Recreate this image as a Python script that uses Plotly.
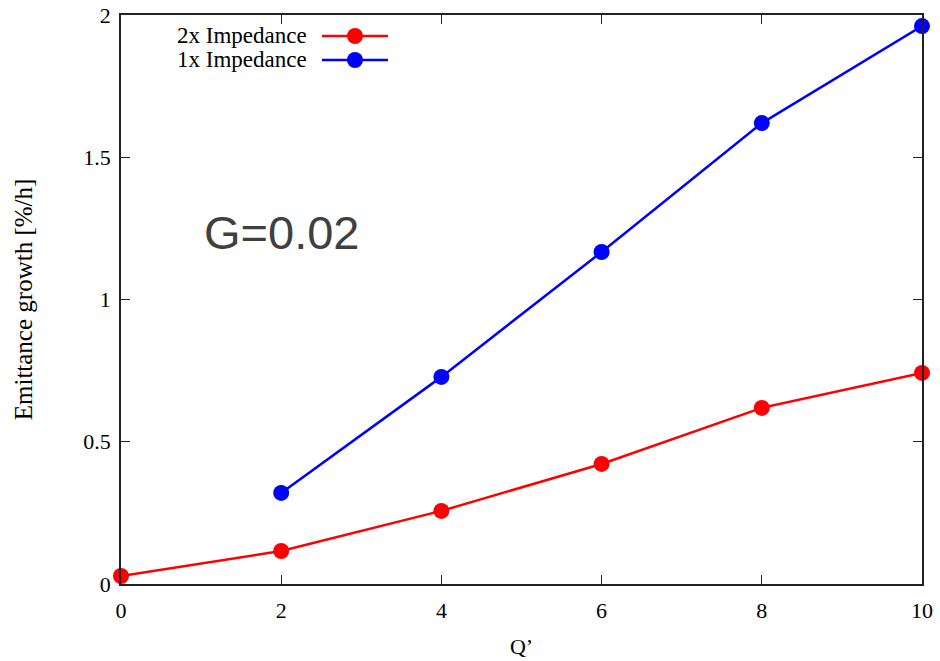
import plotly.graph_objects as go

q_red = [0, 2, 4, 6, 8, 10]
growth_red = [0.028, 0.116, 0.257, 0.422, 0.619, 0.742]
q_blue = [2, 4, 6, 8, 10]
growth_blue = [0.32, 0.728, 1.167, 1.62, 1.961]
name_red = "2x Impedance"
name_blue = "1x Impedance"
x_ticks = [0, 2, 4, 6, 8, 10]
y_ticks = [0, 0.5, 1, 1.5, 2]
y_ticklabels = ["0", "0.5", "1", "1.5", "2"]

serif = "Liberation Serif, Times New Roman, serif"

fig = go.Figure()
fig.add_trace(go.Scatter(x=q_red, y=growth_red, mode="lines+markers", name=name_red,
                         line=dict(color="#ff0000", width=2.5),
                         marker=dict(color="#ff0000", size=16), cliponaxis=False, showlegend=False))
fig.add_trace(go.Scatter(x=q_blue, y=growth_blue, mode="lines+markers", name=name_blue,
                         line=dict(color="#0000ff", width=2.5),
                         marker=dict(color="#0000ff", size=16), cliponaxis=False, showlegend=False))

axis_common = dict(showgrid=False, zeroline=False, showline=True, linecolor="#222222", linewidth=1.5,
                   mirror="ticks", ticks="inside", ticklen=9, tickwidth=1, tickcolor="#222222",
                   automargin=False,
                   tickfont=dict(family=serif, size=22, color="#000000"))
fig.update_xaxes(range=[0, 10], tickvals=x_ticks, ticktext=[str(v) for v in x_ticks],
                 ticklabelstandoff=6,
                 title=dict(text="Q’", font=dict(family=serif, size=22, color="#000"), standoff=16),
                 **axis_common)
fig.update_yaxes(range=[0, 2], tickvals=y_ticks, ticktext=y_ticklabels,
                 ticklabelstandoff=4,
                 title=dict(text="Emittance growth [%/h]", font=dict(family=serif, size=25, color="#000"), standoff=44),
                 **axis_common)

# Manual legend (text right-aligned, sample on the right, like gnuplot)
L, R, T, B = 121, 18, 15, 77
plot_w = 940 - L - R
plot_h = 661 - T - B
def px_to_paper_x(px):
    return (px - L) / plot_w
def px_to_paper_y(py):
    return (661 - B - py) / plot_h

legend_items = [(name_red, "#ff0000", 36), (name_blue, "#0000ff", 60)]
for name, col, py in legend_items:
    fig.add_annotation(x=px_to_paper_x(309), y=px_to_paper_y(py), xref="paper", yref="paper",
                       text=name, showarrow=False, xanchor="right", yanchor="middle",
                       font=dict(family=serif, size=23, color="#000"))
    fig.add_shape(type="line", xref="paper", yref="paper",
                  x0=px_to_paper_x(322), x1=px_to_paper_x(388), y0=px_to_paper_y(py), y1=px_to_paper_y(py),
                  line=dict(color=col, width=2.5))
    fig.add_shape(type="circle", xref="paper", yref="paper",
                  x0=px_to_paper_x(347), x1=px_to_paper_x(363), y0=px_to_paper_y(py - 8), y1=px_to_paper_y(py + 8),
                  fillcolor=col, line=dict(color=col, width=0))

fig.add_annotation(x=2.0, y=1.234, xref="x", yref="y", text="G=0.02", showarrow=False,
                   font=dict(family="Liberation Sans, Arial, sans-serif", size=47, color="#404040"))

fig.update_layout(width=940, height=661, margin=dict(l=L, r=R, t=T, b=B),
                  paper_bgcolor="white", plot_bgcolor="white")
fig.write_html("out.html")
